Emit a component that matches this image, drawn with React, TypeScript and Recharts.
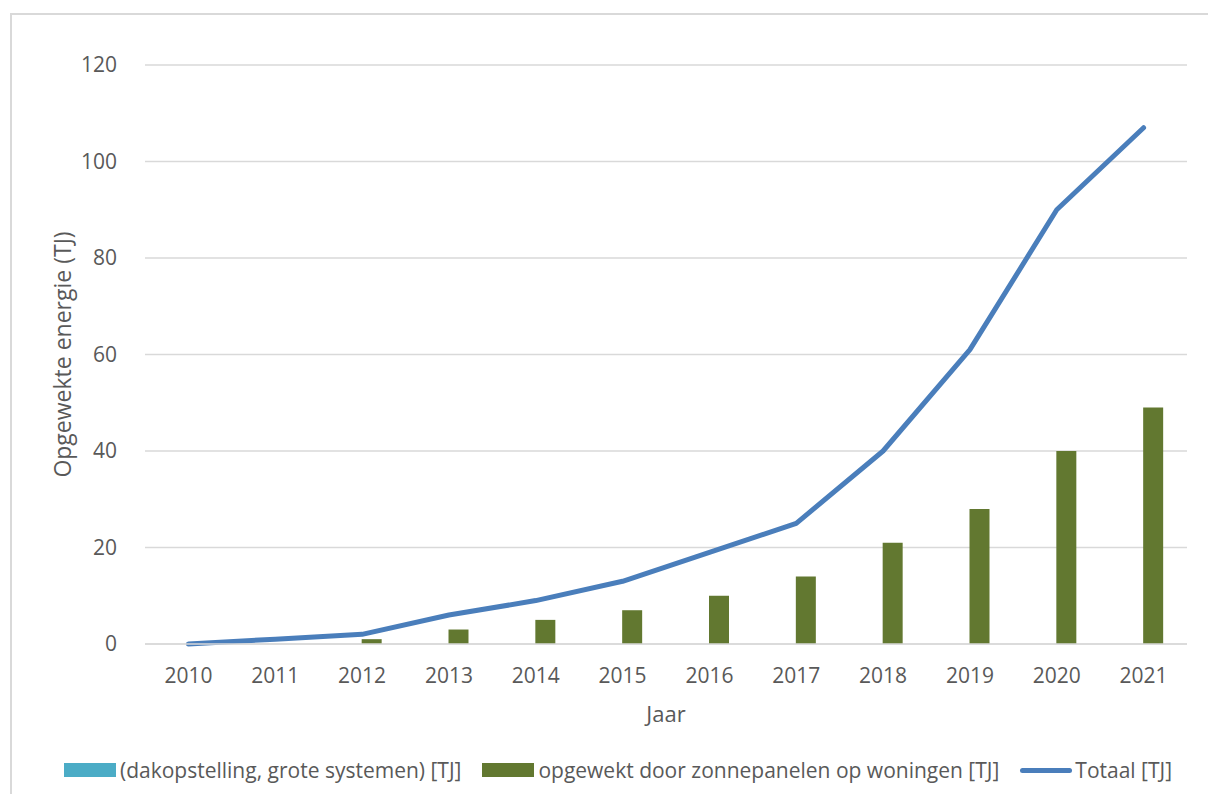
import React from 'react';
import { ComposedChart, Bar, Line, XAxis, YAxis, CartesianGrid, Legend, Label } from 'recharts';

const years = ['2010', '2011', '2012', '2013', '2014', '2015', '2016', '2017', '2018', '2019', '2020', '2021'];
const grootValues = [0, 0, 0, 0, 0, 0, 0, 0, 0, 0, 0, 0];
const woningenValues = [0, 0, 1, 3, 5, 7, 10, 14, 21, 28, 40, 49];
const totaalValues = [0, 1, 2, 6, 9, 13, 19, 25, 40, 61, 90, 107];
const yTicks = [0, 20, 40, 60, 80, 100, 120];
const seriesNames = ['(dakopstelling, grote systemen) [TJ]', 'opgewekt door zonnepanelen op woningen [TJ]', 'Totaal [TJ]'];

const data = years.map((y, i) => ({
  jaar: y,
  groot: grootValues[i],
  woningen: woningenValues[i],
  totaal: totaalValues[i],
}));

const FONT = '"Open Sans", "Noto Sans", sans-serif';
const TEXT = '#595959';

const LegendContent = (props: any) => {
  const payload = [...(props.payload || [])].sort(
    (a: any, b: any) => seriesNames.indexOf(a.value) - seriesNames.indexOf(b.value)
  );
  return (
    <div style={{ display: 'flex', justifyContent: 'center', alignItems: 'center', height: 30, paddingLeft: 28, fontFamily: FONT, fontSize: 21, color: TEXT, whiteSpace: 'nowrap' }}>
      {payload.map((p: any, i: number) => (
        <div key={i} style={{ display: 'flex', alignItems: 'center', marginRight: i < payload.length - 1 ? 21 : 0 }}>
          {p.type === 'line' ? (
            <div style={{ width: 52, height: 5, background: p.color, borderRadius: 3, marginRight: 3 }} />
          ) : (
            <div style={{ width: 52, height: 14, background: p.color, marginRight: 4 }} />
          )}
          <span>{p.value}</span>
        </div>
      ))}
    </div>
  );
};

export default function App() {
  return (
    <div style={{ position: 'absolute', left: 0, top: 0, width: 1208, height: 794, background: '#fff', overflow: 'hidden' }}>
      <div style={{ position: 'absolute', left: 10, top: 13, width: 1198, height: 781, borderLeft: '2px solid #d9d9d9', borderTop: '2px solid #d9d9d9', boxSizing: 'border-box' }} />
      <ComposedChart
        width={1208}
        height={794}
        data={data}
        margin={{ top: 65, right: 21, left: 55, bottom: 50 }}
        barGap={0}
        style={{ position: 'absolute', left: 0, top: 0 }}
      >
        <CartesianGrid vertical={false} stroke="#d9d9d9" strokeWidth={1.5} />
        <XAxis
          dataKey="jaar"
          height={70}
          axisLine={{ stroke: '#d9d9d9', strokeWidth: 1.5 }}
          tickLine={false}
          tick={{ fill: TEXT, fontSize: 21, fontFamily: FONT }}
          tickMargin={18}
        >
          <Label value="Jaar" position="insideBottom" offset={-8} style={{ fill: TEXT, fontSize: 22, fontFamily: FONT }} />
        </XAxis>
        <YAxis
          width={90}
          domain={[0, 120]}
          ticks={yTicks}
          axisLine={false}
          tickLine={false}
          tick={{ fill: TEXT, fontSize: 21, fontFamily: FONT }}
          tickMargin={22}
        >
          <Label value="Opgewekte energie (TJ)" angle={-90} position="insideLeft" offset={0} dx={8} style={{ fill: TEXT, fontSize: 23, fontFamily: FONT, textAnchor: 'middle' }} />
        </YAxis>
        <Legend verticalAlign="bottom" content={<LegendContent />} wrapperStyle={{ bottom: 9, left: 0, width: 1208 }} />
        <Bar dataKey="groot" name={seriesNames[0]} fill="#4bacc6" barSize={20} isAnimationActive={false} legendType="rect" />
        <Bar dataKey="woningen" name={seriesNames[1]} fill="#627830" barSize={20} isAnimationActive={false} legendType="rect" />
        <Line dataKey="totaal" name={seriesNames[2]} type="linear" stroke="#4a7ebb" strokeWidth={5} dot={false} strokeLinecap="round" strokeLinejoin="round" isAnimationActive={false} legendType="line" />
      </ComposedChart>
    </div>
  );
}
